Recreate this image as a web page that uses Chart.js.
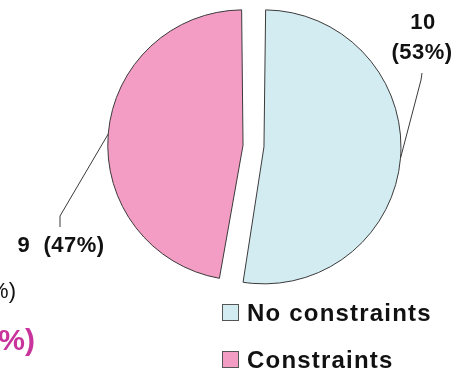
<!DOCTYPE html>
<html>
<head>
<meta charset="utf-8">
<script src="https://cdn.jsdelivr.net/npm/chart.js@4/dist/chart.umd.min.js"></script>
<style>
  html, body { margin: 0; padding: 0; background: #ffffff; }
  #wrap { width: 455px; height: 374px; position: relative; }
</style>
</head>
<body>
<div id="wrap"><canvas id="c" width="455" height="374"></canvas></div>
<script>
// Survey result: respondents with / without constraints
const categories = ['No constraints', 'Constraints'];
const counts = [10, 9];
const sliceColors = ['#D3ECF2', '#F39CC4'];

const total = counts.reduce((a, b) => a + b, 0);
const valueLabels = counts.map(v => [String(v), '(' + Math.round(v / total * 100) + '%)']);

const FONT = '"Liberation Sans", Arial, sans-serif';

// Label placement for each slice: leader elbow, leader end and text anchors
const labelLayout = [
  { elbow: [421, 80], end: [422, 73], lines: [[423, 23], [422, 53]], join: false },
  { elbow: [60, 216], end: [60, 227], lines: [[61, 246]], join: true }
];

const decorPlugin = {
  id: 'decor',
  afterDraw(chart) {
    const ctx = chart.ctx;
    const meta = chart.getDatasetMeta(0);
    ctx.save();
    meta.data.forEach((arc, i) => {
      const p = arc.getProps(['x', 'y', 'startAngle', 'endAngle', 'outerRadius', 'circumference'], true);
      // same shift and radius growth the arc element applies for its offset
      const t = (arc.options.offset || 0) / 4;
      const half = (p.startAngle + p.endAngle) / 2;
      const fix = 1 - Math.sin(Math.min(Math.PI, p.circumference || 0));
      const reach = t + p.outerRadius + t * fix;
      const sx = p.x + Math.cos(half) * reach;
      const sy = p.y + Math.sin(half) * reach;
      const lay = labelLayout[i];
      ctx.strokeStyle = '#3a3a3a';
      ctx.lineWidth = 1;
      ctx.beginPath();
      ctx.moveTo(sx, sy);
      ctx.lineTo(lay.elbow[0], lay.elbow[1]);
      ctx.lineTo(lay.end[0], lay.end[1]);
      ctx.stroke();

      ctx.fillStyle = '#111111';
      ctx.font = 'bold 22px ' + FONT;
      ctx.letterSpacing = '0.5px';
      ctx.textAlign = 'center';
      ctx.textBaseline = 'middle';
      const texts = lay.join ? [valueLabels[i].join('  ')] : valueLabels[i];
      texts.forEach((t2, k) => ctx.fillText(t2, lay.lines[k][0], lay.lines[k][1]));
    });

    // legend
    ctx.textAlign = 'left';
    ctx.textBaseline = 'middle';
    categories.forEach((name, i) => {
      const y = 313 + i * 47;
      ctx.fillStyle = sliceColors[i];
      ctx.fillRect(222.5, y - 8.5, 16, 16);
      ctx.strokeStyle = '#555555';
      ctx.lineWidth = 1;
      ctx.strokeRect(222.5, y - 8.5, 16, 16);
      ctx.fillStyle = '#111111';
      ctx.font = 'bold 24px ' + FONT;
      ctx.letterSpacing = '1.2px';
      ctx.fillText(name, 247, y + 1);
    });

    // neighbouring panel's labels, clipped at the left edge
    ctx.letterSpacing = '0px';
    ctx.textAlign = 'right';
    ctx.fillStyle = '#111111';
    ctx.font = '22px ' + FONT;
    ctx.fillText('%)', 16, 292);
    ctx.fillStyle = '#C8339C';
    ctx.font = 'bold 30px ' + FONT;
    ctx.fillText('%)', 35, 342);
    ctx.restore();
  }
};

new Chart(document.getElementById('c'), {
  type: 'pie',
  data: {
    labels: categories,
    datasets: [{
      data: counts,
      backgroundColor: sliceColors,
      borderColor: '#3a3a3a',
      borderWidth: 1,
      offset: [42, 42]
    }]
  },
  options: {
    responsive: false,
    animation: false,
    radius: 126.5,
    layout: { padding: { left: 60, right: 8, top: 0, bottom: 82 } },
    plugins: {
      legend: { display: false },
      tooltip: { enabled: false }
    }
  },
  plugins: [decorPlugin]
});
</script>
</body>
</html>
